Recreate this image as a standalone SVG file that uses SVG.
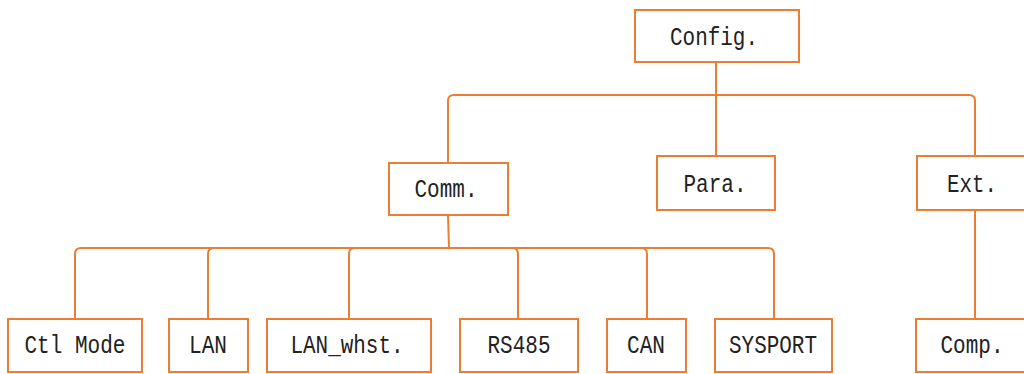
<svg xmlns="http://www.w3.org/2000/svg" width="1024" height="374" viewBox="0 0 1024 374">
  <style>
    .box { fill: #ffffff; stroke: #ED7D31; stroke-width: 2; }
    .wire { fill: none; stroke: #ED7D31; stroke-width: 2; }
    .lbl { font-family: "Liberation Mono", "DejaVu Sans Mono", monospace; font-size: 26px; fill: #222222; text-anchor: middle; }
  </style>
  <rect width="1024" height="374" fill="#ffffff"/>

  <!-- connectors -->
  <g id="connectors">
    <path class="wire" d="M716,62 V156"/>
    <path class="wire" d="M716,95 H454 Q448,95 448,101 V162"/>
    <path class="wire" d="M716,95 H969 Q975,95 975,101 V156"/>
    <path class="wire" d="M975,210 V318"/>
    <path class="wire" d="M448,215 L449,248"/>
    <path class="wire" d="M449,248 H81 Q75,248 75,254 V318"/>
    <path class="wire" d="M449,248 H214 Q208,248 208,254 V318"/>
    <path class="wire" d="M449,248 H355 Q349,248 349,254 V318"/>
    <path class="wire" d="M449,248 H512 Q518,248 518,254 V318"/>
    <path class="wire" d="M449,248 H641 Q647,248 647,254 V318"/>
    <path class="wire" d="M449,248 H768 Q774,248 774,254 V318"/>
  </g>

  <g id="config">
    <rect class="box" x="635" y="10" width="164" height="52"/>
    <text class="lbl" x="714" y="45" textLength="88" lengthAdjust="spacingAndGlyphs">Config.</text>
  </g>
  <g id="comm">
    <rect class="box" x="389" y="163" width="119" height="52"/>
    <text class="lbl" x="446" y="197" textLength="63" lengthAdjust="spacingAndGlyphs">Comm.</text>
  </g>
  <g id="para">
    <rect class="box" x="657" y="156" width="118" height="54"/>
    <text class="lbl" x="715" y="192" textLength="63" lengthAdjust="spacingAndGlyphs">Para.</text>
  </g>
  <g id="ext">
    <rect class="box" x="917" y="156" width="120" height="54"/>
    <text class="lbl" x="972" y="192" textLength="50" lengthAdjust="spacingAndGlyphs">Ext.</text>
  </g>
  <g id="ctl-mode">
    <rect class="box" x="8" y="319" width="134" height="53"/>
    <text class="lbl" x="75" y="353" textLength="101" lengthAdjust="spacingAndGlyphs">Ctl Mode</text>
  </g>
  <g id="lan">
    <rect class="box" x="169" y="319" width="79" height="53"/>
    <text class="lbl" x="208" y="353" textLength="38" lengthAdjust="spacingAndGlyphs">LAN</text>
  </g>
  <g id="lan-whst">
    <rect class="box" x="267" y="319" width="164" height="53"/>
    <text class="lbl" x="347" y="353" textLength="113" lengthAdjust="spacingAndGlyphs">LAN_whst.</text>
  </g>
  <g id="rs485">
    <rect class="box" x="460" y="319" width="118" height="53"/>
    <text class="lbl" x="519" y="353" textLength="63" lengthAdjust="spacingAndGlyphs">RS485</text>
  </g>
  <g id="can">
    <rect class="box" x="607" y="319" width="79" height="53"/>
    <text class="lbl" x="646" y="353" textLength="38" lengthAdjust="spacingAndGlyphs">CAN</text>
  </g>
  <g id="sysport">
    <rect class="box" x="715" y="319" width="117" height="53"/>
    <text class="lbl" x="773" y="353" textLength="88" lengthAdjust="spacingAndGlyphs">SYSPORT</text>
  </g>
  <g id="comp">
    <rect class="box" x="916" y="319" width="120" height="53"/>
    <text class="lbl" x="972" y="353" textLength="63" lengthAdjust="spacingAndGlyphs">Comp.</text>
  </g>
</svg>
